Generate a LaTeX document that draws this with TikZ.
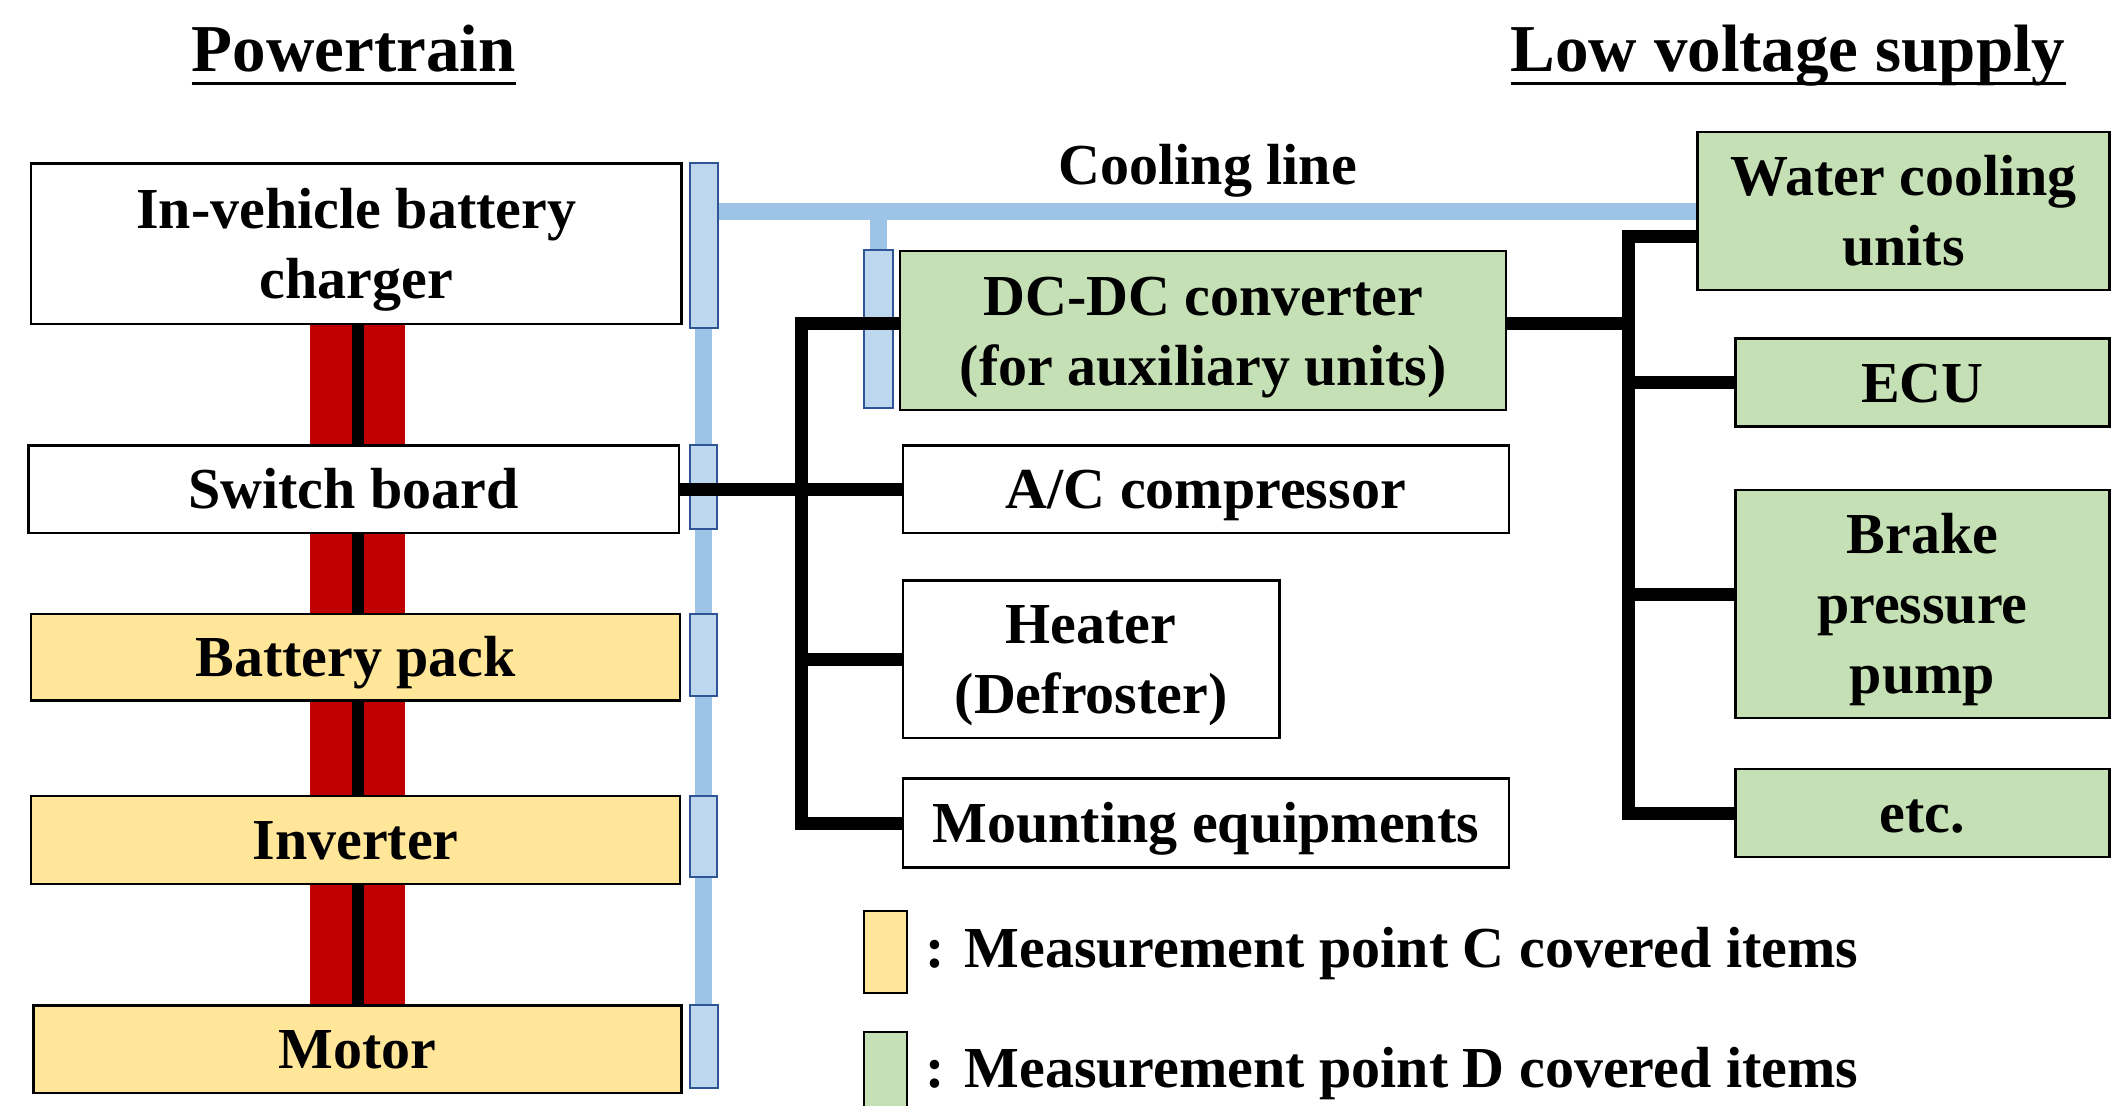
\documentclass[tikz,border=0pt]{standalone}
\usepackage{fontspec}
\setmainfont{Liberation Serif}
\usetikzlibrary{fit,calc}
\pgfdeclarelayer{bg}
\pgfsetlayers{bg,main}
\definecolor{yel}{HTML}{FFE699}
\definecolor{grn}{HTML}{C5E0B4}
\definecolor{redb}{HTML}{C00000}
\definecolor{pipec}{HTML}{9DC3E6}
\definecolor{bluef}{HTML}{BDD7EE}
\definecolor{blued}{HTML}{2F5597}
\newcommand\sr{\rule[-0.216em]{0pt}{1.107em}}
\begin{document}
\begin{tikzpicture}[x=1.3495pt,y=-1.3495pt,
  box/.style={draw=black,line width=2.5pt,inner sep=0pt},
  ybox/.style={box,fill=yel},
  gbox/.style={box,fill=grn},
  wbox/.style={box,fill=white},
  txt/.style={inner sep=0pt,align=center,font=\fontsize{58}{70}\selectfont\bfseries},
  sensor/.style={draw=blued,fill=bluef,line width=2pt,inner sep=0pt},
  bus/.style={line width=13pt,draw=black},
  pipe/.style={line width=17pt,draw=pipec},
  lbl/.style={inner sep=0pt,font=\fontsize{58}{70}\selectfont\bfseries},
  ttl/.style={inner sep=0pt,font=\fontsize{67}{80}\selectfont\bfseries},
  uline/.style={line width=3.5pt,draw=black}]
\useasboundingbox (0,0) rectangle (1568,819);

% titles
\node[ttl,anchor=base] (t1) at (262,53) {Powertrain};
\node[ttl,anchor=base] (t2) at (1325,53) {Low voltage supply};
\draw[uline] ($(t1.base west)+(0,9)$) -- ($(t1.base east)+(0,9)$);
\draw[uline] ($(t2.base west)+(0,9)$) -- ($(t2.base east)+(0,9)$);
\node[lbl,anchor=base] (cl) at (895,137) {Cooling line};

% sensors (blue rectangles)
\node[sensor,fit={(511,121)(532,243)}] (s1) {};
\node[sensor,fit={(511,330)(531,392)}] (s2) {};
\node[sensor,fit={(511,455)(531,516)}] (s3) {};
\node[sensor,fit={(511,590)(531,650)}] (s4) {};
\node[sensor,fit={(511,745)(532,806)}] (s5) {};
\node[sensor,fit={(640,185)(662,302)}] (s6) {};

% powertrain boxes
\node[wbox,fit={(23,121)(505,240)}] (charger) {};
\node[wbox,fit={(21,330)(503,395)}] (swb) {};
\node[ybox,fit={(23,455)(504,519)}] (bat) {};
\node[ybox,fit={(23,590)(504,655)}] (inv) {};
\node[ybox,fit={(25,745)(505,810)}] (mot) {};
\node[txt] (chargert) at (charger.center) {In-vehicle battery\sr\\charger\sr};
\node[txt] (swbt) at (swb.center) {Switch board\sr};
\node[txt] (batt) at (bat.center) {Battery pack\sr};
\node[txt] (invt) at (inv.center) {Inverter\sr};
\node[txt] (mott) at (mot.center) {Motor\sr};

% middle boxes
\node[gbox,fit={(667,186)(1116,304)}] (dcdc) {};
\node[wbox,fit={(669,330)(1118,395)}] (ac) {};
\node[wbox,fit={(669,430)(948,547)}] (heat) {};
\node[wbox,fit={(669,577)(1118,643)}] (mount) {};
\node[txt] (dcdct) at (dcdc.center) {DC-DC converter\sr\\(for auxiliary units)\sr};
\node[txt] (act) at (ac.center) {A/C compressor\sr};
\node[txt] (heatt) at (heat.center) {Heater\sr\\(Defroster)\sr};
\node[txt] (mountt) at (mount.center) {Mounting equipments\sr};

% right boxes
\node[gbox,fit={(1258,98)(1563,215)}] (wc) {};
\node[gbox,fit={(1286,251)(1563,316)}] (ecu) {};
\node[gbox,fit={(1286,363)(1563,532)}] (brake) {};
\node[gbox,fit={(1286,570)(1563,635)}] (etc) {};
\node[txt] (wct) at (wc.center) {Water cooling\sr\\units\sr};
\node[txt] (ecut) at (ecu.center) {ECU\sr};
\node[txt] (braket) at (brake.center) {Brake\sr\\pressure\sr\\pump\sr};
\node[txt] (etct) at (etc.center) {etc.\sr};

% legend
\node[box,fill=yel,line width=2pt,fit={(640,675)(672,736)}] (legc) {};
\node[box,fill=grn,line width=2pt,fit={(640,765)(672,830)}] (legd) {};
\node[lbl,anchor=base west] (ltc) at (686,717) {: Measurement point C covered items};
\node[lbl,anchor=base west] (ltd) at (686,806) {: Measurement point D covered items};

% background: cooling pipes and red power bars
\coordinate (pv) at (521,0);
\coordinate (rc) at (265,0);
\begin{pgfonlayer}{bg}
  \draw[pipe] (wc.west) -| (pv |- s5.south);
  \draw[pipe] (s6.north) -- (s6.north |- wc.west);
  \fill[redb] ($(rc |- charger.south)+(-35,0)$) rectangle ($(rc |- swb.north)+(35,0)$);
  \fill[redb] ($(rc |- swb.south)+(-35,0)$) rectangle ($(rc |- bat.north)+(35,0)$);
  \fill[redb] ($(rc |- bat.south)+(-35,0)$) rectangle ($(rc |- inv.north)+(35,0)$);
  \fill[redb] ($(rc |- inv.south)+(-35,0)$) rectangle ($(rc |- mot.north)+(35,0)$);
\end{pgfonlayer}

% black lines in red bars
\draw[line width=12pt] (rc |- charger.south) -- (rc |- swb.north);
\draw[line width=12pt] (rc |- swb.south) -- (rc |- bat.north);
\draw[line width=12pt] (rc |- bat.south) -- (rc |- inv.north);
\draw[line width=12pt] (rc |- inv.south) -- (rc |- mot.north);

% left bus
\coordinate (lb) at (594,0);
\coordinate (dcl) at ($(dcdc.west)+(0,-5)$);
\coordinate (dcr) at ($(dcdc.east)+(0,-5)$);
\coordinate (brl) at ($(brake.west)+(0,-7)$);
\draw[bus] (swb.east) -- (ac.west);
\draw[bus] (dcl) -| (lb |- mount.west) -- (mount.west);
\draw[bus] (heat.west) -- (lb |- heat.west);

% right bus
\coordinate (rb) at (1207,175);
\draw[bus] (wc.west |- rb) -- (rb) |- (etc.west);
\draw[bus] (dcr) -- (rb |- dcr);
\draw[bus] (ecu.west) -- (rb |- ecu.west);
\draw[bus] (brl) -- (rb |- brl);
\end{tikzpicture}
\end{document}
